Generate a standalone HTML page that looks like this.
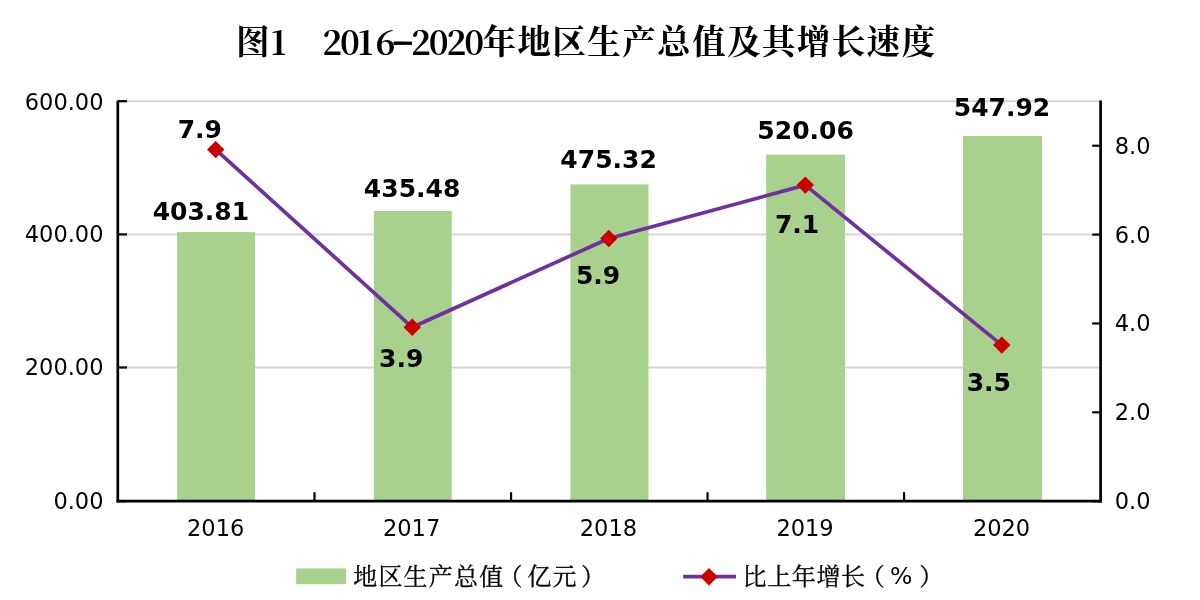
<!DOCTYPE html>
<html lang="zh"><head><meta charset="utf-8"><title>图1 2016-2020年地区生产总值及其增长速度</title>
<style>html,body{margin:0;padding:0;background:#fff}body{width:1200px;height:600px;overflow:hidden}svg{display:block}</style></head>
<body>
<svg width="1200" height="600" viewBox="0 0 1200 600">
<rect width="1200" height="600" fill="#fff"/>
<line x1="118.0" x2="1100.6" y1="367.50" y2="367.50" stroke="#d5d5d5" stroke-width="2"/>
<line x1="118.0" x2="1100.6" y1="234.40" y2="234.40" stroke="#d5d5d5" stroke-width="2"/>
<line x1="118.0" x2="1100.6" y1="101.20" y2="101.20" stroke="#d5d5d5" stroke-width="2"/>
<rect x="177.1" y="232.06" width="77.90" height="269.14" fill="#a9d18e"/>
<rect x="373.8" y="210.95" width="77.90" height="290.25" fill="#a9d18e"/>
<rect x="570.4" y="184.40" width="78.10" height="316.80" fill="#a9d18e"/>
<rect x="766.2" y="154.58" width="78.80" height="346.62" fill="#a9d18e"/>
<rect x="963.0" y="136.01" width="79.00" height="365.19" fill="#a9d18e"/>
<g stroke="#000" stroke-width="2.7" fill="none" stroke-linecap="square">
<line x1="117.8" x2="117.8" y1="101.90" y2="501.2"/>
<line x1="1100.6" x2="1100.6" y1="101.90" y2="501.2"/>
<line x1="118.0" x2="1100.6" y1="501.2" y2="501.2"/>
</g>
<g stroke="#000" stroke-width="2.2" fill="none">
<line x1="118.0" x2="127.0" y1="501.20" y2="501.20"/>
<line x1="118.0" x2="127.0" y1="367.50" y2="367.50"/>
<line x1="118.0" x2="127.0" y1="234.40" y2="234.40"/>
<line x1="118.0" x2="127.0" y1="101.20" y2="101.20"/>
<line x1="1092.20" x2="1100.6" y1="501.20" y2="501.20"/>
<line x1="1092.20" x2="1100.6" y1="412.33" y2="412.33"/>
<line x1="1092.20" x2="1100.6" y1="323.47" y2="323.47"/>
<line x1="1092.20" x2="1100.6" y1="234.60" y2="234.60"/>
<line x1="1092.20" x2="1100.6" y1="145.73" y2="145.73"/>
<line x1="314.52" x2="314.52" y1="492.2" y2="501.2"/>
<line x1="511.04" x2="511.04" y1="492.2" y2="501.2"/>
<line x1="707.56" x2="707.56" y1="492.2" y2="501.2"/>
<line x1="904.08" x2="904.08" y1="492.2" y2="501.2"/>
</g>
<polyline points="215.71,149.58 412.23,327.31 608.75,238.44 805.27,185.12 1001.79,345.08" fill="none" stroke="#7030a0" stroke-width="3.7" stroke-linejoin="round"/>
<path d="M207.01 149.58L215.71 140.88L224.41 149.58L215.71 158.28Z" fill="#cb0000"/>
<path d="M403.53 327.31L412.23 318.61L420.93 327.31L412.23 336.01Z" fill="#cb0000"/>
<path d="M600.05 238.44L608.75 229.74L617.45 238.44L608.75 247.14Z" fill="#cb0000"/>
<path d="M796.57 185.12L805.27 176.42L813.97 185.12L805.27 193.82Z" fill="#cb0000"/>
<path d="M993.09 345.08L1001.79 336.38L1010.49 345.08L1001.79 353.78Z" fill="#cb0000"/>
<g font-family="'DejaVu Sans', 'Liberation Sans', sans-serif" font-size="22.5" fill="#000">
<text x="103.5" y="509.2" text-anchor="end">0.00</text>
<text x="103.5" y="374.9" text-anchor="end">200.00</text>
<text x="103.5" y="242.0" text-anchor="end">400.00</text>
<text x="103.5" y="109.5" text-anchor="end">600.00</text>
<text x="1114.7" y="509.20">0.0</text>
<text x="1114.7" y="420.33">2.0</text>
<text x="1114.7" y="331.47">4.0</text>
<text x="1114.7" y="242.60">6.0</text>
<text x="1114.7" y="153.73">8.0</text>
<text x="215.66" y="535.7" text-anchor="middle">2016</text>
<text x="411.58" y="535.7" text-anchor="middle">2017</text>
<text x="608.40" y="535.7" text-anchor="middle">2018</text>
<text x="805.02" y="535.7" text-anchor="middle">2019</text>
<text x="1001.54" y="535.7" text-anchor="middle">2020</text>
</g>
<g font-family="'DejaVu Sans', 'Liberation Sans', sans-serif" font-weight="bold" font-size="25" fill="#000" text-anchor="middle">
<text x="200.9" y="220">403.81</text>
<text x="412.1" y="196.6">435.48</text>
<text x="608.6" y="168.2">475.32</text>
<text x="805.6" y="138.8">520.06</text>
<text x="1002" y="115.6">547.92</text>
<text x="199.8" y="137.6">7.9</text>
<text x="401.2" y="367.4">3.9</text>
<text x="598.1" y="283.8">5.9</text>
<text x="797.1" y="233.3">7.1</text>
<text x="988.8" y="390.7">3.5</text>
</g>
<g font-family="'Noto Serif CJK SC', 'Liberation Serif', serif" font-weight="bold" font-size="33.6" fill="#000">
<text y="53.9"><tspan x="236.0">图</tspan><tspan font-size="33.5" dy="0.9" x="270.7">1</tspan></text>
<text y="53.9"><tspan font-size="33.5" x="322.20 339.95 357.70 375.45 393.20 410.95 428.70 446.45 464.20" dy="0.9 0 0 0 -2.6 2.6 0 0 0">2016-2020</tspan><tspan dy="-0.9" x="482.50 517.42 552.34 587.26 622.18 657.10 692.02 726.94 761.86 796.78 831.70 866.62 901.54">年地区生产总值及其增长速度</tspan></text>
<rect x="393.6" y="41.6" width="18.4" height="3.3" fill="#000"/>
</g>
<rect x="296.2" y="568.4" width="50" height="15.8" fill="#a9d18e"/>
<g font-family="'Noto Serif CJK SC', 'Liberation Serif', serif" font-size="24" fill="#000" stroke="#000" stroke-width="0.3">
<text y="585.2" x="353.2 378.4 403.6 428.8 454.0 479.2 498.5 527.4 552.5 581.0">地区生产总值（亿元）</text>
<text y="585.2"><tspan x="742.5 767.15 791.8 816.45 841.1 860.7">比上年增长（</tspan><tspan font-family="'DejaVu Sans', 'Liberation Sans', sans-serif" font-size="23.5" stroke="none" x="890" y="584.2">%</tspan><tspan x="919.3" y="585.2">）</tspan></text>
</g>
<line x1="683.2" x2="736" y1="576.7" y2="576.7" stroke="#7030a0" stroke-width="3.7"/>
<path d="M700.2 576.7L709 567.9L717.8 576.7L709 585.5Z" fill="#cb0000"/>
</svg>
</body></html>
